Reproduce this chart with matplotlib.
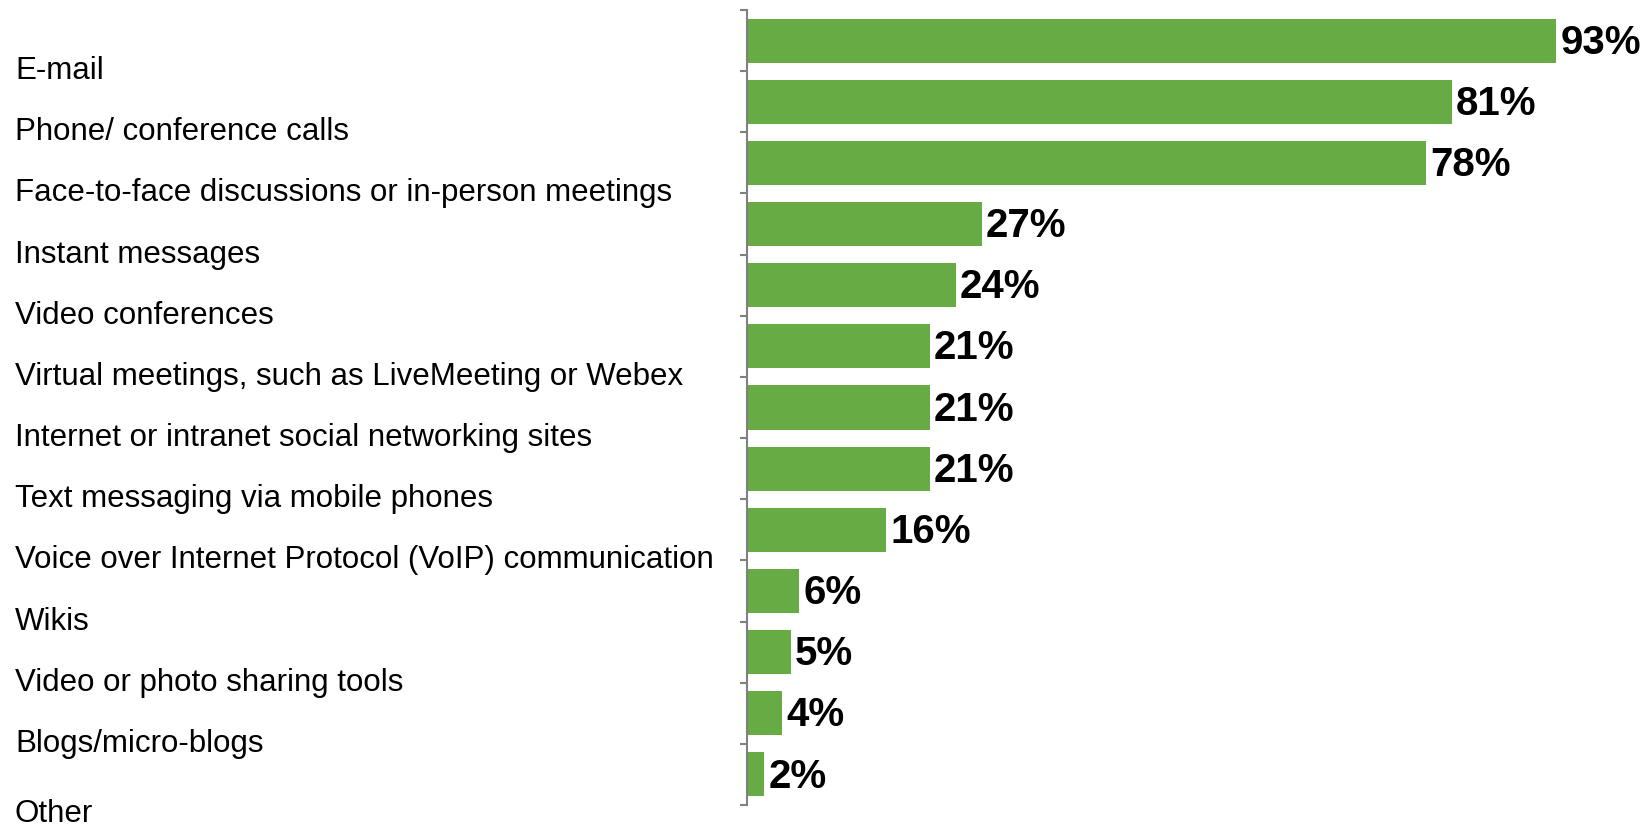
"""Horizontal bar chart: communication tools used."""

import matplotlib.pyplot as plt
import matplotlib.transforms as mtransforms
import numpy as np

categories = [
    "E-mail",
    "Phone/ conference calls",
    "Face-to-face discussions or in-person meetings",
    "Instant messages",
    "Video conferences",
    "Virtual meetings, such as LiveMeeting or Webex",
    "Internet or intranet social networking sites",
    "Text messaging via mobile phones",
    "Voice over Internet Protocol (VoIP) communication",
    "Wikis",
    "Video or photo sharing tools",
    "Blogs/micro-blogs",
    "Other",
]
values = [93, 81, 78, 27, 24, 21, 21, 21, 16, 6, 5, 4, 2]

plt.rcParams["font.family"] = ["Liberation Sans", "DejaVu Sans"]

W, H = 1651, 825
fig = plt.figure(figsize=(W / 100, H / 100), dpi=100)
fig.patch.set_facecolor("white")

# axes placed in pixels: y axis at x=747, ticks from y=10 to y=805
ax = fig.add_axes([747 / W, 1 - 805 / H, 870 / W, 795 / H])

y = np.arange(len(values))
ax.barh(y, values, height=0.72, color="#67AB44", zorder=2)

ax.set_xlim(0, 100)
ax.set_ylim(len(values) - 0.5, -0.5)

for yi, v in zip(y, values):
    ax.annotate(
        f"{v}%",
        xy=(v, yi),
        xytext=(3, -1.5),
        textcoords="offset points",
        va="center",
        ha="left",
        fontsize=29,
        fontweight="bold",
        color="black",
    )

# category labels sit on the boundary ticks (as in the original)
trans = mtransforms.blended_transform_factory(fig.transFigure, ax.transData)
for yi, name in zip(y, categories):
    ypos = yi + 0.5
    if yi == len(values) - 1:
        ypos += 0.15  # last label drops a little lower in the source
    ax.text(
        15 / W,
        ypos,
        name,
        transform=trans,
        ha="left",
        va="center",
        fontsize=22.5,
        color="black",
        clip_on=False,
    )

ax.set_yticks(np.arange(-0.5, len(values), 1.0))
ax.set_yticklabels([])
ax.set_xticks([])
ax.tick_params(axis="y", direction="out", length=5, width=1.5, color="#808080")

for side in ("top", "right", "bottom"):
    ax.spines[side].set_visible(False)
ax.spines["left"].set_color("#808080")
ax.spines["left"].set_linewidth(1.5)
ax.patch.set_alpha(0.0)

fig.savefig("out.png", dpi=100, facecolor="white")
plt.close(fig)
